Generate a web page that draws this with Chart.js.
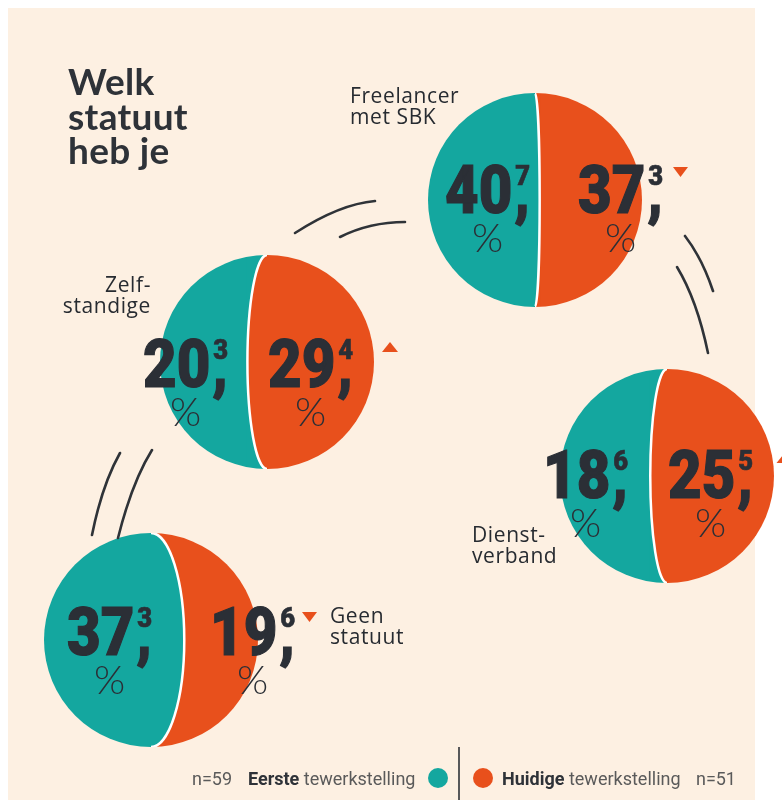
<!DOCTYPE html>
<html>
<head>
<meta charset="utf-8">
<script src="https://cdn.jsdelivr.net/npm/chart.js@4.4.1/dist/chart.umd.min.js"></script>
<style>
  html, body { margin: 0; padding: 0; background: #fff; }
  #page { position: relative; width: 782px; height: 800px; overflow: hidden; background: #fff; }
  #panel { position: absolute; left: 8px; top: 8px; width: 747px; height: 792px; background: #fdf0e2; }
  .bol { position: absolute; border-radius: 50%; }
  #overlay { position: absolute; left: 0; top: 0; }
  .title { font-family: Lato, 'Open Sans', sans-serif; font-weight: 700; font-size: 37px; fill: #2e3238; letter-spacing: 0.3px; }
  .lab { font-family: 'Open Sans', 'Noto Sans', sans-serif; font-size: 21px; fill: #272b31; letter-spacing: 0.6px; }
  .big { font-family: Roboto, sans-serif; font-weight: 900; font-size: 66px; fill: #2b2f36; stroke: #2b2f36; stroke-width: 1.2px; }
  .sup { font-family: Roboto, sans-serif; font-weight: 900; font-size: 27px; fill: #2b2f36; stroke: #2b2f36; stroke-width: 0.6px; }
  .pct { font-family: Lato, 'Open Sans', sans-serif; font-weight: 300; font-size: 40px; fill: #2b2f36; }
  .leg { font-family: Roboto, sans-serif; font-size: 18px; fill: #5a5a5a; }
  .legb { font-weight: 700; fill: #2e3238; }
</style>
</head>
<body>
<div id="page">
  <div id="panel"></div>
  <svg id="overlay" width="782" height="800"></svg>
</div>
<script>
// data
const categories = [['Freelancer', 'met SBK'], ['Zelf-', 'standige'], ['Dienst-', 'verband'], ['Geen', 'statuut']];
const eerste = [40.7, 20.3, 18.6, 37.3];   // Eerste tewerkstelling (%)
const huidige = [37.3, 29.4, 25.5, 19.6];  // Huidige tewerkstelling (%)
const seriesNames = ['Eerste', 'Huidige'];
const sampleSizes = [59, 51];
const titleLines = ['Welk', 'statuut', 'heb je'];

// layout
const TEAL = '#14a79f';
const ORANGE = '#e8501c';
const R = 107;
const SX = 0.88; // squeeze for the big numbers
const centers = [[535, 200], [267, 362], [667, 476], [151, 640]];
const numPos = [[445, 578, 213], [143, 268, 387], [543, 668, 498], [67, 210, 655]];
const labelPos = [[350, 103, 'start'], [151, 292, 'end'], [472, 542, 'start'], [330, 623, 'start']];
const triPos = [[680.5, 167], [390, 342], [784.5, 453], [309.5, 612]];

const page = document.getElementById('page');
const svg = document.getElementById('overlay');
const NS = 'http://www.w3.org/2000/svg';

function el(tag, attrs, text) {
  const e = document.createElementNS(NS, tag);
  for (const k in attrs) e.setAttribute(k, attrs[k]);
  if (text != null) e.textContent = text;
  svg.appendChild(e);
  return e;
}

// curved divider, like a meridian on a ball
const meridian = {
  id: 'meridian',
  afterDatasetsDraw(chart) {
    const bar = chart.getDatasetMeta(0).data[0];
    const { left, right, top, bottom } = chart.chartArea;
    const cx = (left + right) / 2, cy = (top + bottom) / 2, r = (bottom - top) / 2;
    const d = bar.x - cx;
    const ctx = chart.ctx;
    ctx.save();
    if (d >= 0) {
      ctx.fillStyle = ORANGE;
      ctx.fillRect(cx, top, d + 1, bottom - top);
      ctx.beginPath();
      ctx.ellipse(cx, cy, Math.max(d, 0.5), r, 0, -Math.PI / 2, Math.PI / 2);
      ctx.fillStyle = TEAL;
      ctx.fill();
      ctx.beginPath();
      ctx.ellipse(cx, cy, Math.max(d, 0.5), r, 0, -Math.PI / 2, Math.PI / 2);
    } else {
      ctx.fillStyle = TEAL;
      ctx.fillRect(bar.x - 1, top, -d + 1, bottom - top);
      ctx.beginPath();
      ctx.ellipse(cx, cy, -d, r, 0, Math.PI / 2, Math.PI * 1.5);
      ctx.fillStyle = ORANGE;
      ctx.fill();
      ctx.beginPath();
      ctx.ellipse(cx, cy, -d, r, 0, Math.PI / 2, Math.PI * 1.5);
    }
    ctx.strokeStyle = '#ffffff';
    ctx.lineWidth = 2.5;
    ctx.stroke();
    ctx.restore();
  }
};

categories.forEach((cat, i) => {
  const c = document.createElement('canvas');
  c.width = 2 * R;
  c.height = 2 * R;
  c.className = 'bol';
  c.style.left = (centers[i][0] - R) + 'px';
  c.style.top = (centers[i][1] - R) + 'px';
  page.insertBefore(c, svg);

  new Chart(c, {
    type: 'bar',
    data: {
      labels: [cat.join(' ')],
      datasets: [
        { label: seriesNames[0], data: [eerste[i]], backgroundColor: TEAL, borderWidth: 0 },
        { label: seriesNames[1], data: [huidige[i]], backgroundColor: ORANGE, borderWidth: 0 }
      ]
    },
    options: {
      indexAxis: 'y',
      responsive: false,
      animation: false,
      layout: { padding: 0 },
      barPercentage: 1,
      categoryPercentage: 1,
      plugins: { legend: { display: false }, tooltip: { enabled: false } },
      scales: {
        x: { stacked: true, display: false, min: 0, max: eerste[i] + huidige[i] },
        y: { stacked: true, display: false }
      }
    },
    plugins: [meridian]
  });
});

// title
titleLines.forEach((t, k) => el('text', { x: 68, y: 95 + k * 34.5, class: 'title' }, t));

// decorative swoosh lines
[
  'M295 233 Q340 204 375 201',
  'M340 237 Q370 222 405 222',
  'M685 236 Q702 258 713 291',
  'M677 267 Q697 300 708 353',
  'M120 453 Q102 485 92 535',
  'M152 450 Q132 482 118 538'
].forEach(d => el('path', { d, fill: 'none', stroke: '#2f3338', 'stroke-width': 2.6, 'stroke-linecap': 'round' }));

function drawNumber(v, x, y) {
  const [ip, dp] = v.toFixed(1).split('.');
  const t = el('text', { transform: `translate(${x} ${y}) scale(${SX} 1)`, class: 'big' }, ip);
  const sx = x + t.getComputedTextLength() * SX + 2;
  el('text', { transform: `translate(${sx} ${y}) scale(${SX} 1)`, class: 'big' }, ',');
  const s = el('text', { transform: `translate(${sx + 1} ${y - 28}) scale(0.95 1)`, class: 'sup' }, dp);
  const right = sx + 1 + s.getComputedTextLength() * 0.95;
  el('text', { x: (x + right) / 2, y: y + 39, class: 'pct', 'text-anchor': 'middle' }, '%');
}

categories.forEach((cat, i) => {
  const [lx, ly, anchor] = labelPos[i];
  cat.forEach((line, k) => el('text', { x: lx, y: ly + k * 21, class: 'lab', 'text-anchor': anchor }, line));

  drawNumber(eerste[i], numPos[i][0], numPos[i][2]);
  drawNumber(huidige[i], numPos[i][1], numPos[i][2]);

  // trend arrow from first to current job
  const [tx, ty] = triPos[i];
  const pts = huidige[i] < eerste[i]
    ? `${tx - 7.5},${ty} ${tx + 7.5},${ty} ${tx},${ty + 10}`
    : `${tx - 8},${ty + 10} ${tx + 8},${ty + 10} ${tx},${ty}`;
  el('polygon', { points: pts, fill: ORANGE });
});

// legend
const ly = 785;
el('text', { x: 192, y: ly, class: 'leg' }, 'n=' + sampleSizes[0]);
const l1 = el('text', { x: 248, y: ly, class: 'leg' });
l1.innerHTML = `<tspan class="legb">${seriesNames[0]}</tspan> tewerkstelling`;
el('circle', { cx: 438, cy: 778, r: 10, fill: TEAL });
el('line', { x1: 459, y1: 747, x2: 459, y2: 800, stroke: '#2e3238', 'stroke-width': 1.6 });
el('circle', { cx: 483, cy: 778, r: 10, fill: ORANGE });
const l2 = el('text', { x: 502, y: ly, class: 'leg' });
l2.innerHTML = `<tspan class="legb">${seriesNames[1]}</tspan> tewerkstelling`;
el('text', { x: 736, y: ly, class: 'leg', 'text-anchor': 'end' }, 'n=' + sampleSizes[1]);
</script>
</body>
</html>
